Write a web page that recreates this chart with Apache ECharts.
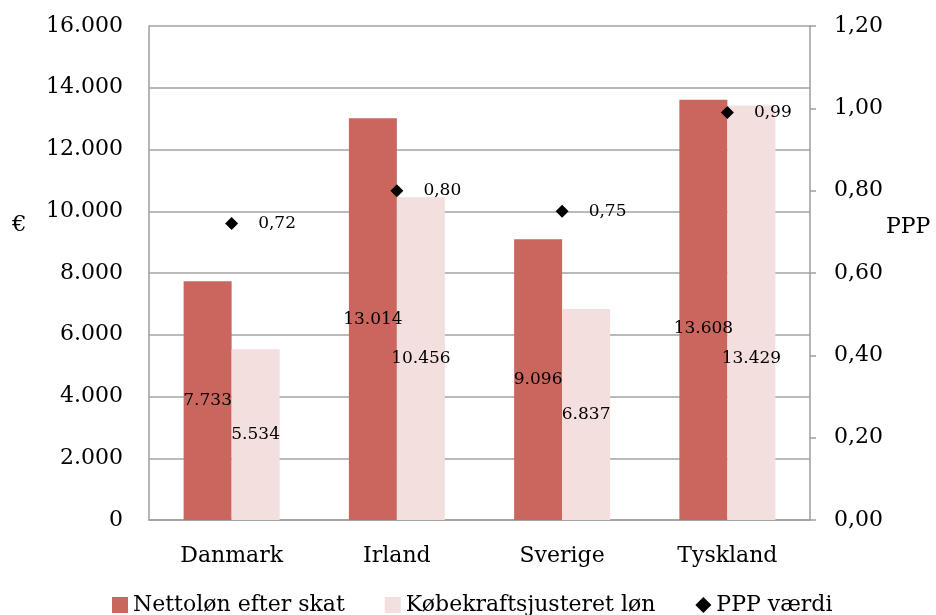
<!DOCTYPE html>
<html>
<head>
<meta charset="utf-8">
<script src="https://cdn.jsdelivr.net/npm/echarts@6/dist/echarts.min.js"></script>
<style>
html,body{margin:0;padding:0;background:#fff;}
#c{width:936px;height:615px;}
</style>
</head>
<body>
<div id="c"></div>
<script>
const categories = ['Danmark', 'Irland', 'Sverige', 'Tyskland'];
const nettolon = [7733, 13014, 9096, 13608];
const kobekraft = [5534, 10456, 6837, 13429];
const pppValues = [0.72, 0.80, 0.75, 0.99];
const seriesNames = ['Nettoløn efter skat', 'Købekraftsjusteret løn', 'PPP værdi'];
// label nudges (pixels) as placed in the original chart
const nettoLabelOffset = [[0, 0], [0, 0], [0, 0], [0, 19]];
const kobeLabelOffset = [[0, 0], [0, 0], [0, 0], [0, 46]];

const FONT = 'DejaVu Serif';
const fmtThousands = v => String(Math.round(v)).replace(/\B(?=(\d{3})+(?!\d))/g, '.');
const fmtComma = v => v.toFixed(2).replace('.', ',');

const mkBarData = (vals, offs) => vals.map((v, i) => ({value: v, label: {offset: offs[i]}}));

const chart = echarts.init(document.getElementById('c'), null, {renderer: 'canvas'});
chart.setOption({
  animation: false,
  backgroundColor: '#fff',
  textStyle: {fontFamily: FONT, color: '#000'},
  grid: {left: 149, right: 126, top: 26, bottom: 95},
  legend: {
    left: 107, top: 589,
    itemGap: 40, itemWidth: 16, itemHeight: 16,
    textStyle: {fontFamily: FONT, fontSize: 22, color: '#000'},
    data: [
      {name: seriesNames[0], icon: 'rect'},
      {name: seriesNames[1], icon: 'rect'},
      {name: seriesNames[2], icon: 'diamond', itemStyle: {color: '#000', opacity: 1}}
    ]
  },
  xAxis: {
    type: 'category',
    data: categories,
    axisLine: {show: true, lineStyle: {color: '#9e9e9e', width: 1.5}},
    axisTick: {show: false},
    axisLabel: {fontFamily: FONT, fontSize: 22, color: '#000', margin: 25}
  },
  yAxis: [
    {
      type: 'value', min: 0, max: 16000, interval: 2000,
      axisLine: {show: true, lineStyle: {color: '#9e9e9e', width: 1.5}},
      axisTick: {show: false},
      splitLine: {show: true, lineStyle: {color: '#a3a3a3', width: 1.5}},
      axisLabel: {fontFamily: FONT, fontSize: 22, color: '#000', margin: 26, formatter: fmtThousands}
    },
    {
      type: 'value', min: 0, max: 1.2, interval: 0.2, position: 'right',
      axisLine: {show: true, lineStyle: {color: '#9e9e9e', width: 1.5}},
      axisTick: {show: true, inside: false, length: 6, lineStyle: {color: '#9e9e9e', width: 1.5}},
      splitLine: {show: false},
      axisLabel: {fontFamily: FONT, fontSize: 22, color: '#000', margin: 24, formatter: fmtComma}
    }
  ],
  series: [
    {
      name: seriesNames[0], type: 'bar', data: mkBarData(nettolon, nettoLabelOffset),
      barWidth: 48, barGap: '0%',
      itemStyle: {color: '#cb665f'},
      label: {show: true, position: 'inside', fontFamily: FONT, fontSize: 17, color: '#000', formatter: p => fmtThousands(p.value)}
    },
    {
      name: seriesNames[1], type: 'bar', data: mkBarData(kobekraft, kobeLabelOffset),
      barWidth: 48, barGap: '0%',
      itemStyle: {color: '#f3dfde'},
      label: {show: true, position: 'inside', fontFamily: FONT, fontSize: 17, color: '#000', formatter: p => fmtThousands(p.value)}
    },
    {
      name: seriesNames[2], type: 'scatter', yAxisIndex: 1, data: pppValues,
      symbol: 'diamond', symbolSize: 13,
      itemStyle: {color: '#000', opacity: 1},
      label: {show: true, position: 'right', distance: 20, fontFamily: FONT, fontSize: 17, color: '#000', formatter: p => fmtComma(p.value)}
    }
  ],
  graphic: [
    {type: 'text', left: 12, top: 214, style: {text: '€', font: '23px "DejaVu Serif"', fill: '#000'}},
    {type: 'text', left: 886, top: 216, style: {text: 'PPP', font: '22px "DejaVu Serif"', fill: '#000'}}
  ]
});
</script>
</body>
</html>
